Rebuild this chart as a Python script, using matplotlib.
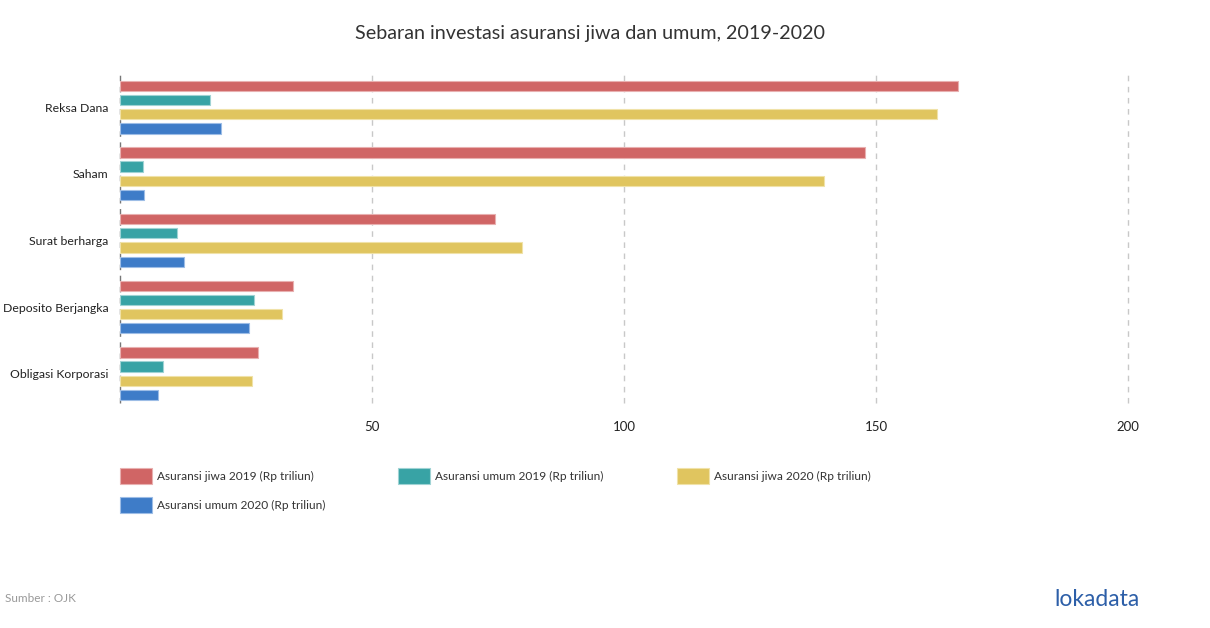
import numpy as np
import matplotlib.pyplot as plt
from matplotlib.patches import Rectangle

plt.rcParams['font.family'] = ['Lato', 'DejaVu Sans']

# Data
kategori = ['Reksa Dana', 'Saham', 'Surat berharga', 'Deposito Berjangka', 'Obligasi Korporasi']
jiwa_2019 = [166.3, 147.8, 74.4, 34.3, 27.4]
umum_2019 = [17.9, 4.6, 11.3, 26.6, 8.5]
jiwa_2020 = [162.1, 139.7, 79.8, 32.1, 26.2]
umum_2020 = [20.0, 4.8, 12.7, 25.6, 7.5]
seri = ['Asuransi jiwa 2019 (Rp triliun)', 'Asuransi umum 2019 (Rp triliun)',
        'Asuransi jiwa 2020 (Rp triliun)', 'Asuransi umum 2020 (Rp triliun)']
warna = ['#d06565', '#38a3a5', '#e0c55f', '#3e7cc8']
tepi = ['#e8b0b0', '#9fd3d4', '#f0e2a8', '#9dbde6']
xticks = [50, 100, 150, 200]

fig = plt.figure(figsize=(12.1, 6.28), dpi=100)
ax = fig.add_axes([120/1210, 1 - 403/628, 1008/1210, 328/628])

y = np.arange(len(kategori))
offsets = [-0.32, -0.107, 0.107, 0.32]
for vals, off, c, e in zip([jiwa_2019, umum_2019, jiwa_2020, umum_2020], offsets, warna, tepi):
    ax.barh(y + off, vals, height=0.155, color=c, edgecolor=e, linewidth=0.8, zorder=3)

ax.set_xlim(0, 200)
ax.set_ylim(len(kategori) - 1 + 0.44, -0.48)
ax.set_yticks(y)
ax.set_yticklabels(kategori, fontsize=8.8, color='#222222')
ax.tick_params(axis='y', length=0, pad=8.5)
ax.set_xticks(xticks)
ax.set_xticklabels([str(v) for v in xticks], fontsize=9.5, color='#222222')
ax.tick_params(axis='x', length=0, pad=13)
for s in ax.spines.values():
    s.set_visible(False)
for v in xticks:
    ax.axvline(v, color='#c8c8c8', linestyle=(0, (4, 4)), linewidth=1, zorder=0, clip_on=False)
ax.axvline(0, color='#777777', linestyle=(0, (4, 4)), linewidth=1, zorder=1, clip_on=False)

# Title
fig.text(590/1210, 1 - 33/628, 'Sebaran investasi asuransi jiwa dan umum, 2019-2020',
         ha='center', va='center', fontsize=14.25, color='#333333')

# Legend
pos = [(120, 476), (398, 476), (677, 476), (120, 505)]
for (px, py), lab, c, e in zip(pos, seri, warna, tepi):
    fig.patches.append(Rectangle((px / 1210, 1 - (py + 8) / 628), 32 / 1210, 16 / 628,
                                 transform=fig.transFigure, facecolor=c, edgecolor=e, linewidth=0.8))
    fig.text((px + 37) / 1210, 1 - py / 628, lab, ha='left', va='center', fontsize=8.6, color='#333333')

# Footer
fig.text(5/1210, 1 - 598/628, 'Sumber : OJK', ha='left', va='center', fontsize=8.5, color='#999999')
fig.text(1140/1210, 1 - 599/628, 'lokadata', ha='right', va='center', fontsize=16.5, color='#2d5fa8')

fig.savefig('out.png', dpi=100)
